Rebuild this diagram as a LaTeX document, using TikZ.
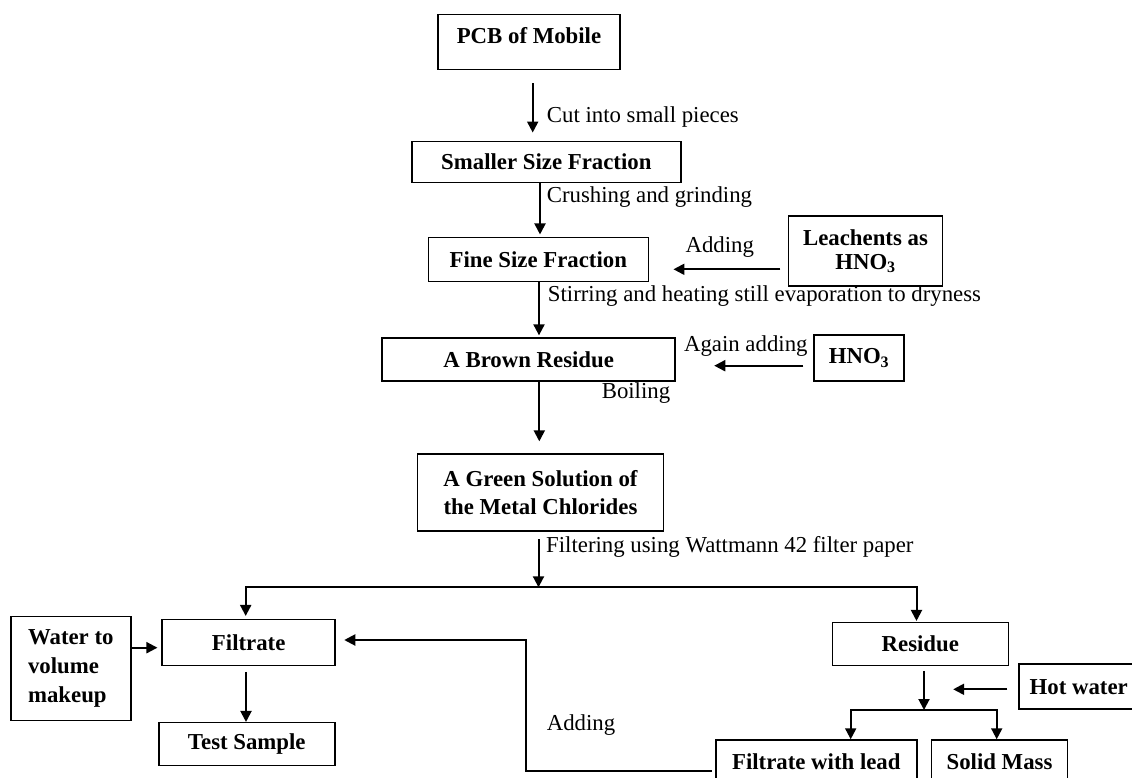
\documentclass[tikz,border=0pt]{standalone}
\usepackage{fontspec}
\setmainfont{Liberation Serif}
\usetikzlibrary{arrows.meta}
\tikzset{
  box/.style={draw, line width=1.5pt, inner sep=0pt, align=center,
    font=\fontsize{22.8}{28}\selectfont\bfseries},
  flow/.style={line width=2pt, -{Triangle[length=11pt,width=11pt]}},
  lbl/.style={inner sep=0pt, font=\fontsize{22.8}{28}\selectfont,
    text height=16pt, text depth=5pt}
}
\begin{document}
\begin{tikzpicture}[x=1pt,y=-1pt]
      \useasboundingbox (0,0) rectangle (1132,778);
      \draw
        (529,14) node[box,anchor=north,minimum width=182pt,text height=28.7pt,text depth=26.3pt] (pcb){PCB of Mobile}
        (546.3,162.2) node[box,minimum width=269pt,minimum height=41pt] (small){Smaller Size Fraction}
        (538.3,259.5) node[box,minimum width=220pt,minimum height=44pt] (fine){Fine Size Fraction}
        (865.5,251) node[box,minimum width=154pt,minimum height=70pt,font=\fontsize{22.8}{24}\selectfont\bfseries] (leach){Leachents as\\HNO\textsubscript{3}}
        (528.7,359.3) node[box,minimum width=293pt,minimum height=43pt] (brown){A Brown Residue}
        (859,358.2) node[box,minimum width=90pt,minimum height=46pt] (hno){HNO\textsubscript{3}}
        (540.5,492.3) node[box,minimum width=246pt,minimum height=77pt] (green){A Green Solution of\\the Metal Chlorides}
        (248.7,642.3) node[box,minimum width=173pt,minimum height=46pt] (filt){Filtrate}
        (70.8,668.7) node[box,align=left,minimum width=120pt,minimum height=104pt,font=\fontsize{22.8}{29}\selectfont\bfseries] (water){Water to\\volume\\makeup}
        (246.8,744.2) node[box,minimum width=176pt,minimum height=43pt] (test){Test Sample}
        (920.3,643.8) node[box,minimum width=176pt,minimum height=43pt] (res){Residue}
        (1078.7,686.7) node[box,minimum width=119pt,minimum height=45pt] (hot){Hot water}
        (816.3,761.5) node[box,minimum width=201pt,minimum height=43pt] (lead){Filtrate with lead}
        (999.5,761.5) node[box,minimum width=136pt,minimum height=43pt] (solid){Solid Mass};
      \node[lbl,anchor=west] (cut) at (546.7,116.7) {Cut into small pieces};
      \node[lbl,anchor=west] (crush) at (546.7,196.7) {Crushing and grinding};
      \node[lbl] (add1) at (719.8,246.7) {Adding};
      \node[lbl,anchor=west] (stir) at (547.7,295.7) {Stirring and heating still evaporation to dryness};
      \node[lbl] (again) at (745.8,345.7) {Again adding};
      \node[lbl] (boil) at (636,393.3) {Boiling};
      \node[lbl,anchor=west] (filter) at (546,546.7) {Filtering using Wattmann 42 filter paper};
      \node[lbl] (add2) at (581,725) {Adding};
      \coordinate (fsplit) at (538.5,587.3);
      \coordinate (rsplit) at (924,710);
      \begin{scope}[flow]
        \draw ([xshift=3.7pt,yshift=-12.7pt]pcb.south) to ([xshift=-13.6pt,yshift=8.4pt]small.north);
        \draw ([xshift=-6.3pt]small.south) to ([xshift=1.7pt,yshift=2.3pt]fine.north);
        \draw ([xshift=0.7pt]fine.south) to ([xshift=10.3pt,yshift=1.7pt]brown.north);
        \draw ([xshift=10.6pt]brown.south) to ([xshift=-1.2pt,yshift=11.7pt]green.north);
        \draw ([xshift=-2pt,yshift=-7.6pt]green.south) to (fsplit);
        \draw (fsplit) -| ([xshift=-3pt,yshift=2.6pt]filt.north);
        \draw (fsplit) -| ([xshift=-3.8pt,yshift=0.6pt]res.north);
        \draw ([xshift=-7.3pt,yshift=-18.3pt]leach.west) to ([xshift=24.4pt,yshift=-9.8pt]fine.east);
        \draw ([xshift=-10pt,yshift=-7.5pt]hno.west) to ([xshift=38.3pt,yshift=-6.4pt]brown.east);
        \draw ([yshift=21pt]water.east) to ([xshift=-4pt,yshift=-5.4pt]filt.west);
        \draw ([xshift=-2.7pt,yshift=-5.7pt]filt.south) to ([xshift=-0.8pt]test.north);
        \draw ([xshift=-3.3pt,yshift=-9.5pt]lead.west) -- ++(-185.7,0) |- ([xshift=8.3pt,yshift=2.3pt]filt.east);
        \draw ([xshift=3.7pt,yshift=-4.7pt]res.south) to (rsplit);
        \draw (rsplit) -| ([xshift=34.4pt]lead.north);
        \draw (rsplit) -| ([xshift=-2.8pt]solid.north);
        \draw ([xshift=-11pt,yshift=-2.6pt]hot.west) -- ++(-54.3,0);
      \end{scope}
    \end{tikzpicture}
\end{document}
